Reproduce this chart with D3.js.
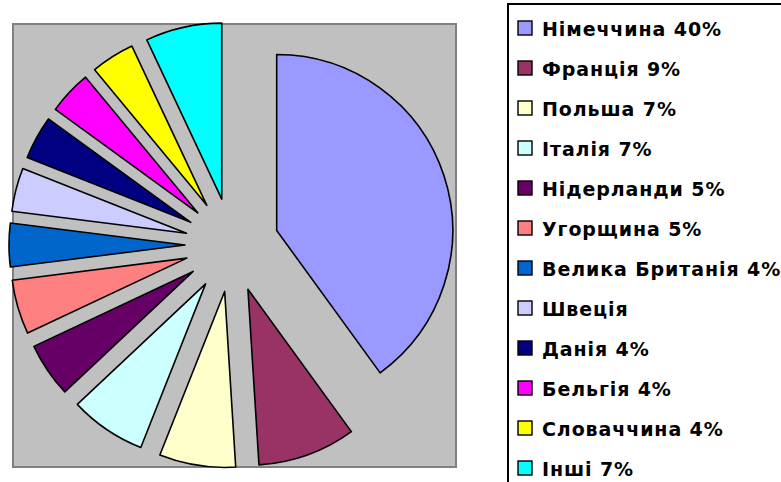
<!doctype html>
<html lang="uk">
<head>
<meta charset="utf-8">
<title>Експорт</title>
<script src="https://cdn.jsdelivr.net/npm/d3@7/dist/d3.min.js"></script>
<style>
  body { margin: 0; background: #fff; }
  svg { display: block; }
</style>
</head>
<body>
<script>
// дані
var countries = ["Німеччина", "Франція", "Польша", "Італія", "Нідерланди", "Угорщина",
                 "Велика Британія", "Швеція", "Данія", "Бельгія", "Словаччина", "Інші"];
var shares = [40, 9, 7, 7, 5, 5, 4, 4, 4, 4, 4, 7];
var labels = ["Німеччина 40%", "Франція 9%", "Польша 7%", "Італія 7%", "Нідерланди 5%", "Угорщина 5%",
              "Велика Британія 4%", "Швеція", "Данія 4%", "Бельгія 4%", "Словаччина 4%", "Інші 7%"];
var colors = ["#9999FF", "#993366", "#FFFFCC", "#CCFFFF", "#660066", "#FF8080",
              "#0066CC", "#CCCCFF", "#000080", "#FF00FF", "#FFFF00", "#00FFFF"];

var W = 781, H = 482;
var svg = d3.select("body").append("svg").attr("width", W).attr("height", H);

// plot area
svg.append("rect")
    .attr("x", 13).attr("y", 24).attr("width", 443).attr("height", 443)
    .attr("fill", "#C0C0C0").attr("stroke", "#808080").attr("stroke-width", 2);

var cx = 232, cy = 245, radius = 176, explode = 47;

var pie = d3.pie().sort(null).value(function(d){ return d; });
var arc = d3.arc().innerRadius(0).outerRadius(radius);
var arcs = pie(shares);

var g = svg.append("g").attr("transform", "translate(" + cx + "," + cy + ")");
g.selectAll("path")
    .data(arcs)
  .enter().append("path")
    .attr("d", arc)
    .attr("transform", function(d){
        var a = (d.startAngle + d.endAngle) / 2;
        return "translate(" + (Math.sin(a) * explode) + "," + (-Math.cos(a) * explode) + ")";
    })
    .attr("fill", function(d, i){ return colors[i]; })
    .attr("stroke", "#000").attr("stroke-width", 1.6).attr("stroke-linejoin", "round");

// legend
svg.append("rect")
    .attr("x", 508).attr("y", 4).attr("width", 300).attr("height", 500)
    .attr("fill", "#fff").attr("stroke", "#000").attr("stroke-width", 2);

var rowY = d3.scalePoint().domain(d3.range(labels.length)).range([36, 476]);

var items = svg.append("g").selectAll("g")
    .data(labels)
  .enter().append("g")
    .attr("transform", function(d, i){ return "translate(0," + rowY(i) + ")"; });

items.append("rect")
    .attr("x", 518).attr("y", -15).attr("width", 14).attr("height", 14)
    .attr("fill", function(d, i){ return colors[i]; })
    .attr("stroke", "#000").attr("stroke-width", 1.4);

items.append("text")
    .attr("x", 542).attr("y", 0)
    .style("font-family", "'DejaVu Sans', sans-serif")
    .style("font-weight", "bold")
    .style("font-size", "19px")
    .style("letter-spacing", "0.9px")
    .attr("fill", "#000")
    .text(function(d){ return d; });
</script>
</body>
</html>
